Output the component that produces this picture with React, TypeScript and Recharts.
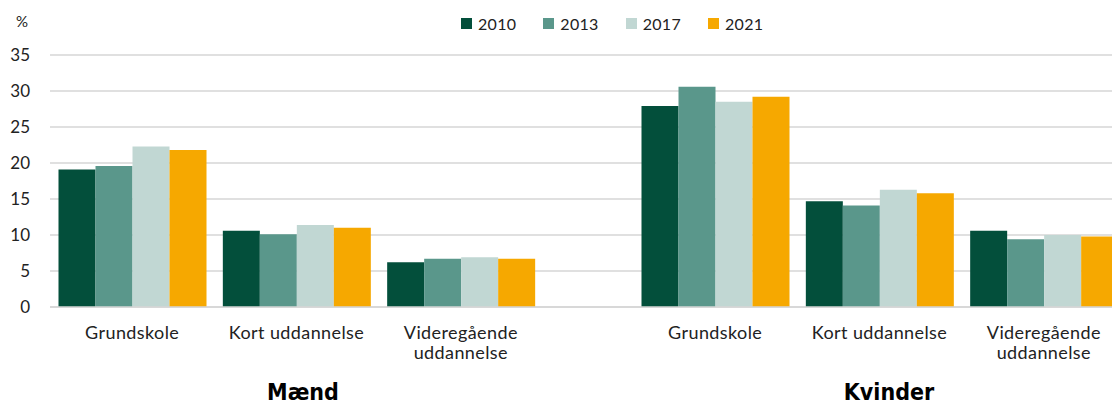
import React from 'react';
import { BarChart, Bar, XAxis, YAxis, CartesianGrid } from 'recharts';

const years = ['2010', '2013', '2017', '2021'];
const yearColors = ['#034f3b', '#5a978b', '#c1d7d3', '#f6a800'];
const educationLevels = ['Grundskole', 'Kort uddannelse', 'Videregående uddannelse'];
const genders = ['Mænd', 'Kvinder'];
const yTicks = [0, 5, 10, 15, 20, 25, 30, 35];

// Mænd, per year, in order of educationLevels
const maend2010 = [19.1, 10.6, 6.2];
const maend2013 = [19.6, 10.1, 6.7];
const maend2017 = [22.3, 11.4, 6.9];
const maend2021 = [21.8, 11.0, 6.7];

// Kvinder
const kvinder2010 = [27.9, 14.7, 10.6];
const kvinder2013 = [30.6, 14.1, 9.4];
const kvinder2017 = [28.5, 16.3, 10.0];
const kvinder2021 = [29.2, 15.8, 9.8];

const FONT = 'Lato, "Open Sans", sans-serif';
const CHART_HEIGHT = 370;
const PLOT_TOP = 55;
const PLOT_BOTTOM = 307;
const HALF_GAP = 45;
const LEFT_WIDTH = 588;
const RIGHT_WIDTH = 538;
const GRID = '#d6d6d6';

function buildRows(series: number[][]) {
  return educationLevels.map((category, i) => {
    const row: Record<string, string | number> = { category };
    years.forEach((year, j) => {
      row[year] = series[j][i];
    });
    return row;
  });
}

const maendRows = buildRows([maend2010, maend2013, maend2017, maend2021]);
const kvinderRows = buildRows([kvinder2010, kvinder2013, kvinder2017, kvinder2021]);

function CategoryTick(props: any) {
  const { x, y, payload } = props;
  const label: string = payload.value;
  const lines = label.length > 16 ? label.split(' ') : [label];
  return (
    <text
      x={x}
      y={y + 32}
      textAnchor="middle"
      fill="#222"
      fontSize={18}
      letterSpacing={0.4}
      fontFamily={FONT}
    >
      {lines.map((line, i) => (
        <tspan key={i} x={x} dy={i === 0 ? 0 : 20}>
          {line}
        </tspan>
      ))}
    </text>
  );
}

function GenderChart({
  rows,
  width,
  showYAxis,
  padding,
}: {
  rows: Record<string, string | number>[];
  width: number;
  showYAxis: boolean;
  padding: { left: number; right: number };
}) {
  return (
    <BarChart
      width={width}
      height={CHART_HEIGHT}
      data={rows}
      margin={{ top: PLOT_TOP, right: 0, bottom: 0, left: 0 }}
      barCategoryGap={8.5}
      barGap={0}
    >
      <CartesianGrid vertical={false} stroke={GRID} strokeWidth={1.5} />
      <XAxis
        dataKey="category"
        height={CHART_HEIGHT - PLOT_BOTTOM}
        interval={0}
        tickLine={false}
        tickSize={0}
        tickMargin={0}
        axisLine={{ stroke: GRID, strokeWidth: 1.5 }}
        tick={<CategoryTick />}
        padding={padding}
      />
      <YAxis
        hide={!showYAxis}
        width={50}
        domain={[0, 35]}
        ticks={yTicks}
        axisLine={false}
        tickLine={false}
        tickSize={0}
        tickMargin={20}
        tick={{ fill: '#222', fontSize: 17, fontFamily: FONT }}
      />
      {years.map((year, i) => (
        <Bar key={year} dataKey={year} fill={yearColors[i]} isAnimationActive={false} />
      ))}
    </BarChart>
  );
}

export default function App() {
  return (
    <div
      style={{
        position: 'relative',
        width: 1112,
        height: 405,
        overflow: 'hidden',
        background: '#fff',
        fontFamily: FONT,
        color: '#222',
      }}
    >
      <style>{'body{margin:0}'}</style>
      <div style={{ position: 'absolute', left: 0, top: 0 }}>
        <GenderChart rows={maendRows} width={LEFT_WIDTH} showYAxis padding={{ left: 0, right: HALF_GAP }} />
      </div>
      <div style={{ position: 'absolute', left: LEFT_WIDTH, top: 0 }}>
        <GenderChart
          rows={kvinderRows}
          width={RIGHT_WIDTH}
          showYAxis={false}
          padding={{ left: HALF_GAP, right: 0 }}
        />
      </div>

      <div style={{ position: 'absolute', left: 16, top: 12, fontSize: 15 }}>%</div>

      <div style={{ position: 'absolute', left: 461, top: 14, display: 'flex', alignItems: 'center' }}>
        {years.map((year, i) => (
          <div key={year} style={{ display: 'flex', alignItems: 'center', marginRight: 27 }}>
            <span style={{ width: 11, height: 11, background: yearColors[i], marginRight: 6 }} />
            <span style={{ fontSize: 16, letterSpacing: 0.3 }}>{year}</span>
          </div>
        ))}
      </div>

      {genders.map((g, i) => (
        <div
          key={g}
          style={{
            position: 'absolute',
            left: (i === 0 ? 303 : 889) - 100,
            top: 379,
            width: 200,
            textAlign: 'center',
            fontFamily: '"DejaVu Sans Condensed", "DejaVu Sans", sans-serif',
            fontWeight: 700,
            fontSize: 23,
            color: '#000',
          }}
        >
          {g}
        </div>
      ))}
    </div>
  );
}
